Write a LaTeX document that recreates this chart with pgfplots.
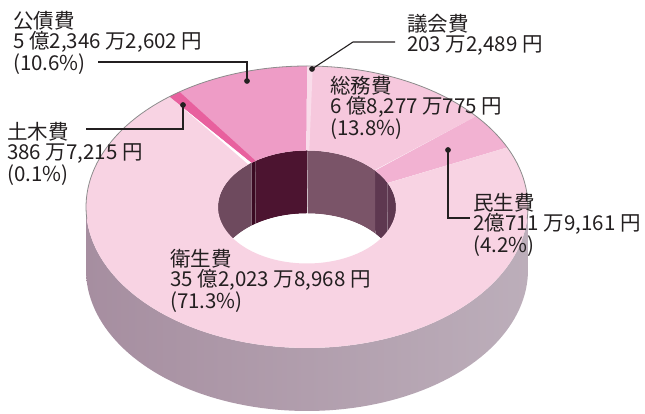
\documentclass[border=0pt]{standalone}
\usepackage{fontspec}
\usepackage{pgfplots}
\pgfplotsset{compat=1.18}
\newfontfamily\jp{Noto Sans CJK JP}
\definecolor{txt}{HTML}{231F20}
\definecolor{cKosai}{HTML}{EE9CC6}
\definecolor{cDoboku}{HTML}{E8609E}
\definecolor{cGikai}{HTML}{F9DCEA}
\definecolor{cSomu}{HTML}{F6C8DD}
\definecolor{cMinsei}{HTML}{F2B2D2}
\definecolor{cEisei}{HTML}{F8D3E3}
\definecolor{wEisei}{HTML}{6E4A5E}
\definecolor{wKosai}{HTML}{4C1430}
\definecolor{wDoboku}{HTML}{3A0A22}
\definecolor{wSomu}{HTML}{7A5468}
\definecolor{wMinsei}{HTML}{5E3850}
\definecolor{sideL}{HTML}{A68EA0}
\definecolor{sideM}{HTML}{9C8496}
\definecolor{sideR}{HTML}{BCAEBA}
% data (億円)
\def\vGikai{0.0203}
\def\vSomu{6.8277}
\def\vMinsei{2.0712}
\def\vEisei{35.2024}
\def\vDoboku{0.0387}
\def\vKosai{5.2346}
% geometry (pixels)
\def\cx{307}\def\cy{207}\def\Ra{221}\def\Rb{141}\def\ra{89}\def\rb{56.5}\def\hh{63}
% ring wedge on the top face: outer arc #1->#2, inner arc back
\newcommand{\ring}[3]{\addplot[#3, draw=none, domain=0:2, samples=181, variable=\t]
 ({\cx+ifthenelse(\t<1.0001, \Ra*cos(#1+(#2-#1)*\t), \ra*cos(#2-(#2-#1)*(\t-1)))},
  {\cy+ifthenelse(\t<1.0001, \Rb*sin(#1+(#2-#1)*\t), \rb*sin(#2-(#2-#1)*(\t-1)))});}
% vertical band: ellipse arc #1->#2 (semi-axes #3,#4), then shifted down arc back
\newcommand{\band}[5]{\addplot[#5, draw=none, domain=0:2, samples=181, variable=\t]
 ({\cx+#3*cos(ifthenelse(\t<1.0001, #1+(#2-#1)*\t, #2-(#2-#1)*(\t-1)))},
  {\cy+#4*sin(ifthenelse(\t<1.0001, #1+(#2-#1)*\t, #2-(#2-#1)*(\t-1)))-ifthenelse(\t<1.0001,0,\hh)});}
\begin{document}%
\begin{tikzpicture}
\pgfmathsetmacro{\tot}{\vGikai+\vSomu+\vMinsei+\vEisei+\vDoboku+\vKosai}
\pgfmathsetmacro{\bA}{90-\vGikai/\tot*360}
\pgfmathsetmacro{\bB}{\bA-\vSomu/\tot*360}
\pgfmathsetmacro{\bC}{\bB-\vMinsei/\tot*360}
\pgfmathsetmacro{\bD}{\bC-\vEisei/\tot*360}
\pgfmathsetmacro{\bE}{\bD-\vDoboku/\tot*360}
\pgfmathsetmacro{\bDp}{\bD+360}
\pgfmathsetmacro{\bDs}{\bDp-3.2}
\begin{axis}[width=645pt, height=414pt, scale only axis, xmin=0, xmax=645, ymin=0, ymax=414, axis lines=none, xtick=\empty, ytick=\empty, clip=false]
\addplot[draw=none] coordinates {(0,0) (645,414)};
% outer side
\band{180}{360}{\Ra}{\Rb}{left color=sideL, middle color=sideM, right color=sideR}
% inner walls
\band{0}{\bC}{\ra}{\rb}{fill=wMinsei}
\band{\bC}{\bB}{\ra}{\rb}{fill=wMinsei}
\band{\bB}{\bA}{\ra}{\rb}{fill=wSomu}
\band{\bA}{90}{\ra}{\rb}{fill=wSomu}
\band{90}{\bDs}{\ra}{\rb}{fill=wKosai}
\band{\bDs}{\bDp}{\ra}{\rb}{fill=wDoboku}
\band{\bDp}{180}{\ra}{\rb}{fill=wEisei}
% see-through of the hole
\addplot[fill=white, draw=none, domain=0:360, samples=121, variable=\t] ({\cx+\ra*cos(\t)},{\cy-\hh+\rb*sin(\t)});
% top face
\ring{90}{\bA}{fill=cGikai}
\ring{\bA}{\bB}{fill=cSomu}
\ring{\bB}{\bC}{fill=cMinsei}
\ring{\bC}{\bD}{fill=cEisei}
\ring{\bD}{\bE}{fill=cDoboku}
\ring{\bE}{-270}{fill=cKosai}
% exaggerated thin slices
\ring{90}{88.5}{fill=cGikai}
\ring{\bDp}{\bDs}{fill=cDoboku}
% outline of the back rim
\addplot[draw=black!45, line width=0.8pt, domain=-5:185, samples=91, variable=\t] ({\cx+\Ra*cos(\t)},{\cy+\Rb*sin(\t)});
% leader lines
\addplot[txt, line width=1.1pt] coordinates {(98,352) (247,352) (247,333)};
\addplot[txt, line width=1.1pt] coordinates {(86,285) (183,285) (183,309)};
\addplot[txt, line width=1.1pt] coordinates {(395,372) (353,372) (312,345)};
\addplot[txt, line width=1.1pt] coordinates {(448,264) (448,196) (470,196)};
\addplot[only marks, mark=*, mark size=2.6pt, txt] coordinates {(247,333) (183,309) (312,345) (448,264)};
% labels
\begin{scope}[every node/.style={anchor=north west, inner sep=0pt, align=left, text=txt, font=\jp\fontsize{20.5}{20.5}\selectfont}]
\node at (axis cs:13,403) {公債費\\5 億2,346 万2,602 円\\(10.6\%)};
\node at (axis cs:7,292) {土木費\\386 万7,215 円\\(0.1\%)};
\node at (axis cs:407,400) {議会費\\203 万2,489 円};
\node at (axis cs:330,338) {総務費\\6 億8,277 万775 円\\(13.8\%)};
\node at (axis cs:473,221) {民生費\\2億711 万9,161 円\\(4.2\%)};
\node at (axis cs:170,165) {衛生費\\35 億2,023 万8,968 円\\(71.3\%)};
\end{scope}
\end{axis}
\pgfresetboundingbox
\path (current axis.south west) rectangle (current axis.north east);
\end{tikzpicture}%
\end{document}
